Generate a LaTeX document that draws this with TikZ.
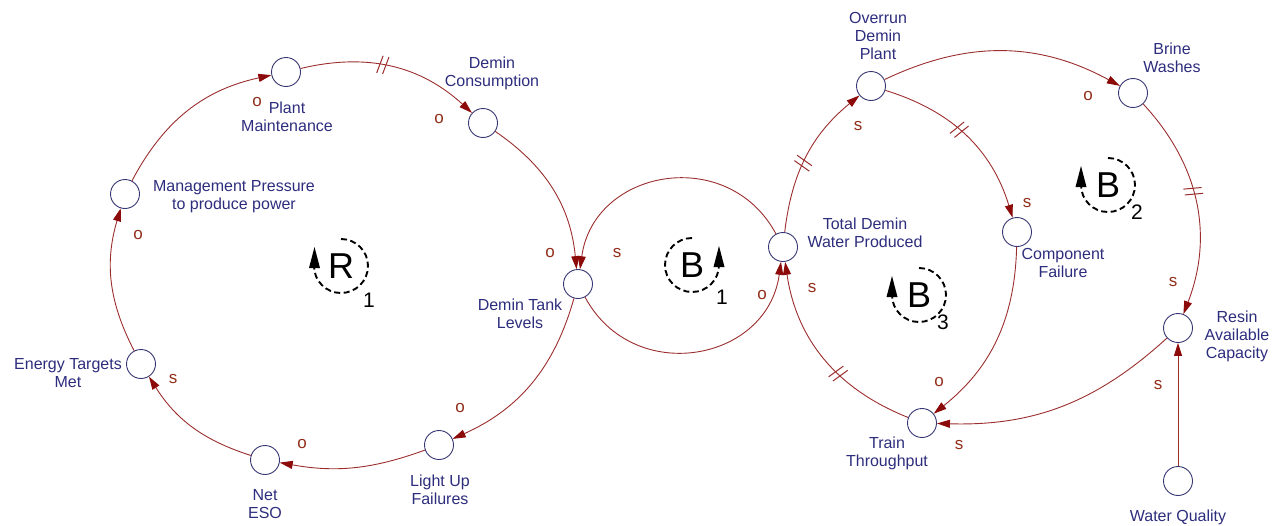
\documentclass[tikz,border=0pt]{standalone}
\usepackage{fontspec}
\setmainfont{Liberation Sans}
\usetikzlibrary{arrows.meta,decorations.markings,calc}

\definecolor{linkc}{RGB}{155,45,45}
\definecolor{headc}{RGB}{140,10,10}
\definecolor{polc}{RGB}{145,45,25}
\definecolor{txtc}{RGB}{45,45,125}
\definecolor{circc}{RGB}{55,55,115}

\tikzset{
 var/.style={circle, draw=circc, fill=white, line width=0.9pt, minimum size=29pt, inner sep=0pt},
 vlabel/.style={text=txtc, font=\fontsize{16}{18}\selectfont, align=center, inner sep=0pt},
 pol/.style={text=polc, font=\fontsize{17}{17}\selectfont, inner sep=0pt},
 link/.style={draw=linkc, line width=0.9pt, -{Triangle[length=13pt,width=8pt,fill=headc,color=headc]}},
 hashmark/.style={draw=linkc, line width=1pt, arrows=-},
 delay/.style={postaction={decorate, decoration={markings, mark=at position #1 with {\path[hashmark] (-5pt,-9pt) -- (-2pt,9pt) (1pt,-9pt) -- (4pt,9pt);}}}},
 loopc/.style={draw=black, line width=1.9pt, dash pattern=on 6pt off 3.5pt},
 looplet/.style={font=\fontsize{36}{36}\selectfont, inner sep=0pt},
 loopnum/.style={font=\fontsize{21}{21}\selectfont, inner sep=0pt},
}

\begin{document}
\begin{tikzpicture}[x=1pt,y=1pt]
\useasboundingbox (0,0) rectangle (1283,-525);

% variables
\node[var] (PM) at (286,-72) {};
\node[var] (DC) at (483,-123) {};
\node[var] (MP) at (125,-194) {};
\node[var] (ET) at (141,-364) {};
\node[var] (NE) at (265,-460) {};
\node[var] (LU) at (439,-445) {};
\node[var] (DT) at (578,-284) {};
\node[var] (TD) at (783,-247) {};
\node[var] (OD) at (871,-86) {};
\node[var] (CF) at (1017,-232) {};
\node[var] (BW) at (1133,-93) {};
\node[var] (RA) at (1178,-328) {};
\node[var] (TT) at (922,-423) {};
\node[var] (WQ) at (1178,-481) {};

% variable labels
\node[vlabel] (lPM) at (287,-117) {Plant\\Maintenance};
\node[vlabel] (lDC) at (492,-73) {Demin\\Consumption};
\node[vlabel] (lMP) at (234,-197) {Management Pressure\\to produce power};
\node[vlabel] (lET) at (68,-373) {Energy Targets\\Met};
\node[vlabel] (lNE) at (265,-504) {Net\\ESO};
\node[vlabel] (lLU) at (440,-490) {Light Up\\Failures};
\node[vlabel] (lDT) at (520,-314) {Demin Tank\\Levels};
\node[vlabel] (lTD) at (865,-233) {Total Demin\\Water Produced};
\node[vlabel] (lOD) at (878,-36) {Overrun\\Demin\\Plant};
\node[vlabel] (lCF) at (1063,-263) {Component\\Failure};
\node[vlabel] (lBW) at (1172,-58) {Brine\\Washes};
\node[vlabel] (lRA) at (1237,-336) {Resin\\Available\\Capacity};
\node[vlabel] (lTT) at (887,-453) {Train\\Throughput};
\node[vlabel] (lWQ) at (1178,-517) {Water Quality};

% links
\draw[link] (MP) to[bend left=25] (PM);
\draw[link, delay=0.45] (PM) to[bend left=28] (DC);
\draw[link] (DC) to[bend left=25] (DT);
\draw[link] (DT) to[bend left=25] (LU);
\draw[link] (LU) to[bend left=15] (NE);
\draw[link] (NE) to[bend left=20] (ET);
\draw[link] (ET) to[bend left=22] (MP);
\draw[link] (TD) to[bend right=72, looseness=1.3] (DT);
\draw[link] (DT) to[bend right=72, looseness=1.3] (TD);
\draw[link, delay=0.45] (TD) to[bend left=22] (OD);
\draw[link, delay=0.45] (OD) to[bend left=28] (CF);
\draw[link] (CF) to[bend left=25] (TT);
\draw[link, delay=0.4] (TT) to[bend left=30] (TD);
\draw[link] (OD) to[bend left=27] (BW);
\draw[link, delay=0.45] (BW) to[bend left=32] (RA);
\draw[link] (RA) to[bend left=22] (TT);
\draw[link] (WQ) -- (RA);

% polarities
\node[pol] (p1) at (257,-102) {o};
\node[pol] (p2) at (439,-119) {o};
\node[pol] (p3) at (550,-253) {o};
\node[pol] (p4) at (460,-408) {o};
\node[pol] (p5) at (302,-444) {o};
\node[pol] (p6) at (173,-379) {s};
\node[pol] (p7) at (138,-235) {o};
\node[pol] (p8) at (617,-253) {s};
\node[pol] (p9) at (762,-295) {o};
\node[pol] (p10) at (858,-126) {s};
\node[pol] (p11) at (1027,-203) {s};
\node[pol] (p12) at (939,-382) {o};
\node[pol] (p13) at (812,-288) {s};
\node[pol] (p14) at (1088,-96) {o};
\node[pol] (p15) at (1173,-282) {s};
\node[pol] (p16) at (959,-445) {s};
\node[pol] (p17) at (1158,-385) {s};

% loop markers
% R1
\draw[loopc] (341,-266) ++(90:27) arc[start angle=90, end angle=-180, radius=27];
\fill (309,-268) -- (320,-268) -- (314.5,-247) -- cycle;
\node[looplet] (R1) at (341,-266) {R};
\node[loopnum] (n1) at (369,-300) {1};
% B1
\draw[loopc] (692,-265) ++(90:27) arc[start angle=90, end angle=360, radius=27];
\fill (713.5,-267) -- (724.5,-267) -- (719,-246) -- cycle;
\node[looplet] (B1) at (692,-265) {B};
\node[loopnum] (n2) at (722,-297) {1};
% B2
\draw[loopc] (1108,-185) ++(90:27) arc[start angle=90, end angle=-180, radius=27];
\fill (1075.5,-187) -- (1086.5,-187) -- (1081,-166) -- cycle;
\node[looplet] (B2) at (1108,-185) {B};
\node[loopnum] (n3) at (1137,-212) {2};
% B3
\draw[loopc] (919,-295) ++(90:27) arc[start angle=90, end angle=-180, radius=27];
\fill (886.5,-297) -- (897.5,-297) -- (892,-276) -- cycle;
\node[looplet] (B3) at (919,-295) {B};
\node[loopnum] (n4) at (943,-322) {3};
\end{tikzpicture}
\end{document}
